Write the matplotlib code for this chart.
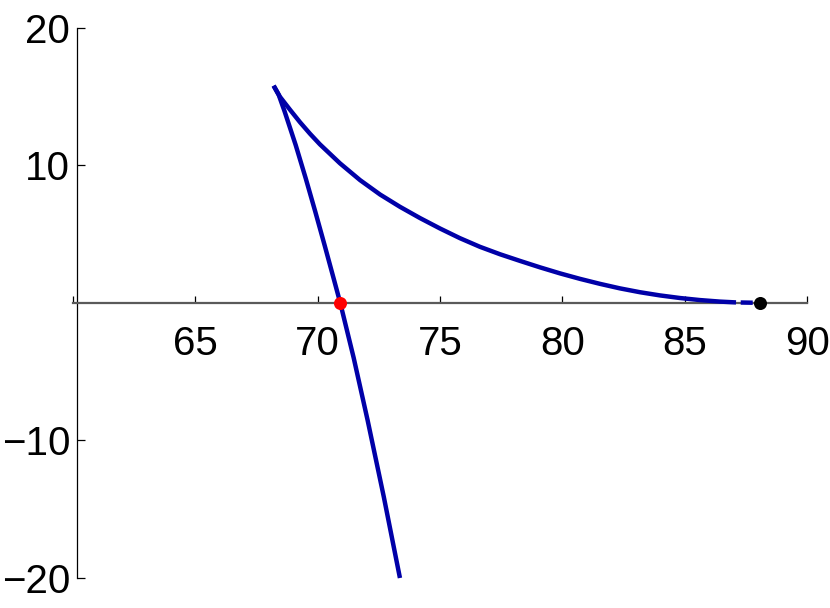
import matplotlib
matplotlib.use("Agg")
import matplotlib.pyplot as plt

plt.rcParams['font.family'] = ['Liberation Sans', 'DejaVu Sans']

# upper branch (cusp -> right, flattening onto the x axis)
upper_x = [68.20, 68.46, 68.87, 69.28, 69.69, 70.09, 70.91, 71.73, 72.55, 73.36,
           74.18, 75.00, 75.81, 76.63, 77.45, 78.26, 79.08, 79.90, 80.72, 81.53,
           82.35, 83.17, 83.98, 84.80, 85.62, 86.43, 87.09]
upper_y = [15.78, 14.97, 14.03, 13.12, 12.28, 11.52, 10.14, 8.92, 7.87, 6.98,
           6.16, 5.40, 4.70, 4.07, 3.53, 3.05, 2.58, 2.14, 1.74, 1.38,
           1.05, 0.77, 0.54, 0.35, 0.20, 0.09, 0.03]

# dashed tail of the upper branch, up to the black point
tail_x = [87.09, 88.05]
tail_y = [0.03, 0.0]

# lower branch (cusp -> down through the red point)
lower_x = [68.20, 68.41, 68.65, 69.10, 69.51, 69.90, 70.28, 70.65, 70.92,
           71.47, 72.04, 72.70, 73.36]
lower_y = [15.78, 15.10, 13.90, 11.47, 9.05, 6.63, 4.20, 1.78, 0.00,
           -4.00, -8.54, -14.10, -20.00]

red_pt = (70.92, 0.0)
black_pt = (88.05, 0.0)

x_ticks = [60, 65, 70, 75, 80, 85, 90]
x_labels = ['', '65', '70', '75', '80', '85', '90']
y_ticks = [-20, -10, 10, 20]
y_labels = ['\u221220', '\u221210', '10', '20']

blue = '#0000a8'
lw = 3.2

fig = plt.figure(figsize=(8.3, 6.08), dpi=100)
ax = fig.add_axes([0, 0, 1, 1])

ax.plot(upper_x, upper_y, color=blue, lw=lw, solid_capstyle='butt',
        solid_joinstyle='round', zorder=3)
ax.plot(lower_x, lower_y, color=blue, lw=lw, solid_capstyle='butt',
        solid_joinstyle='round', zorder=3)
ax.plot(tail_x, tail_y, color=blue, lw=lw, linestyle=(2.7, (2.7, 1.06)), zorder=3)

ax.plot(*red_pt, 'o', color='#ff0000', ms=9.4, mec='none', zorder=4)
ax.plot(*black_pt, 'o', color='black', ms=9.4, mec='none', zorder=4)

ax.set_xlim(57.02, 90.93)
ax.set_ylim(-22.18, 22.01)

# axes crossing like the reference
ax.spines['top'].set_visible(False)
ax.spines['right'].set_visible(False)
ax.spines['bottom'].set_position(('data', 0))
ax.spines['left'].set_position(('data', 60.17))
ax.spines['bottom'].set_bounds(60, 90)
ax.spines['left'].set_bounds(-20, 20)
ax.spines['bottom'].set_color('#5a5a5a')
ax.spines['bottom'].set_linewidth(1.6)
ax.spines['left'].set_color('black')
ax.spines['left'].set_linewidth(0.9)
ax.patch.set_visible(False)

ax.set_xticks(x_ticks, x_labels)
ax.set_yticks(y_ticks, y_labels)
ax.tick_params(axis='x', direction='in', length=5, width=0.9, color='black',
               pad=16, labelsize=29)
ax.tick_params(axis='y', direction='in', length=6, width=0.9, color='black',
               pad=5, labelsize=29)

fig.savefig('out.png', dpi=100)
